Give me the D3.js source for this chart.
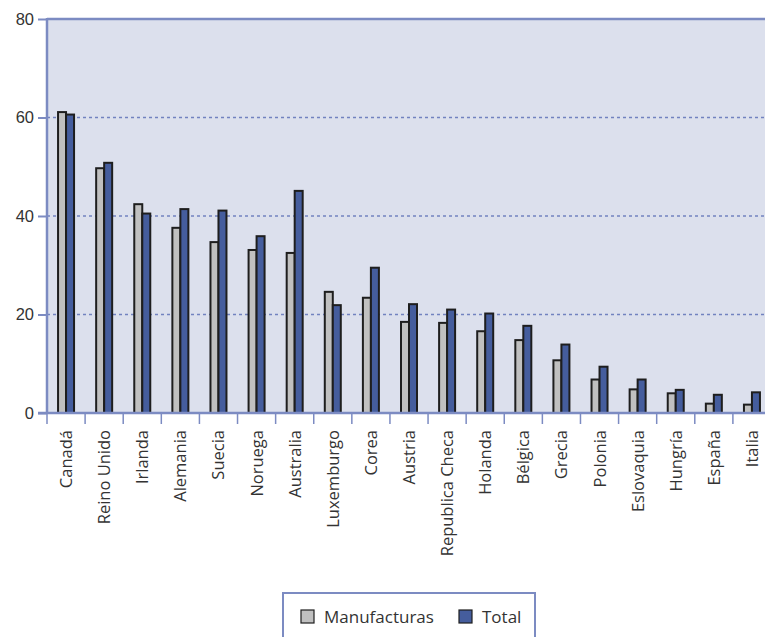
<!DOCTYPE html>
<html>
<head>
<meta charset="utf-8">
<script src="https://cdn.jsdelivr.net/npm/d3@7"></script>
<style>
  body { margin: 0; background: #fff; }
  svg { display: block; font-family: "Open Sans", "Noto Sans", sans-serif; }
</style>
</head>
<body>
<div id="chart"></div>
<script>
const paises = ['Canadá', 'Reino Unido', 'Irlanda', 'Alemania', 'Suecia', 'Noruega', 'Australia',
  'Luxemburgo', 'Corea', 'Austria', 'Republica Checa', 'Holanda', 'Bélgica', 'Grecia',
  'Polonia', 'Eslovaquia', 'Hungría', 'España', 'Italia']
const manufacturas = [61.1, 49.7, 42.4, 37.6, 34.7, 33.1, 32.5, 24.6, 23.4, 18.5, 18.3, 16.6, 14.8, 10.7, 6.8, 4.8, 4.0, 1.9, 1.7]
const total = [60.6, 50.8, 40.5, 41.4, 41.1, 35.9, 45.1, 21.9, 29.5, 22.1, 21.0, 20.2, 17.7, 13.9, 9.4, 6.8, 4.7, 3.7, 4.2]
const series = ['Manufacturas', 'Total']
const yTicks = [0, 20, 40, 60, 80]

const width = 765, height = 637
const m = { left: 47, top: 19, right: -6, bottom: 224 }
const axisColor = '#7c8bc2'
const colors = { Manufacturas: '#c0c0c0', Total: '#455d9d' }

const svg = d3.select('#chart').append('svg')
  .attr('width', width)
  .attr('height', height)

const x = d3.scaleBand()
  .domain(paises)
  .range([m.left, width - m.right])

const y = d3.scaleLinear()
  .domain([0, 80])
  .range([height - m.bottom, m.top])

// fondo
svg.append('rect')
  .attr('x', m.left).attr('y', m.top)
  .attr('width', width - m.right - m.left)
  .attr('height', y(0) - m.top)
  .attr('fill', '#dce0ed')

// lineas de rejilla
svg.append('g')
  .selectAll('line')
  .data(yTicks.filter(d => d > 0 && d < 80))
  .enter().append('line')
  .attr('x1', m.left).attr('x2', width)
  .attr('y1', d => y(d)).attr('y2', d => y(d))
  .attr('stroke', '#7282c0')
  .attr('stroke-width', 1.3)
  .attr('stroke-dasharray', '3,3')

// barras
const bw = 8
const g = svg.append('g')
paises.forEach((p, i) => {
  const cx = x(p) + x.bandwidth() / 2
  const vals = [manufacturas[i], total[i]]
  vals.forEach((v, j) => {
    g.append('rect')
      .attr('x', cx - bw + j * bw)
      .attr('y', y(v))
      .attr('width', bw)
      .attr('height', y(0) - y(v))
      .attr('fill', colors[series[j]])
      .attr('stroke', '#1e1e1e')
      .attr('stroke-width', 2)
  })
})

// eje y
const yAxis = svg.append('g')
  .attr('transform', 'translate(' + m.left + ',0)')
  .call(d3.axisLeft(y).tickValues(yTicks).tickSize(9).tickPadding(4))
yAxis.select('.domain').remove()
yAxis.selectAll('line').attr('stroke', axisColor).attr('stroke-width', 2)
yAxis.selectAll('text').attr('fill', '#333').style('font-size', '16.5px')

svg.append('line')
  .attr('x1', m.left).attr('x2', m.left)
  .attr('y1', m.top - 1).attr('y2', y(0))
  .attr('stroke', axisColor).attr('stroke-width', 2.5)
svg.append('line')
  .attr('x1', m.left).attr('x2', width)
  .attr('y1', m.top).attr('y2', m.top)
  .attr('stroke', axisColor).attr('stroke-width', 2.5)

// eje x
const xAxis = svg.append('g')
  .attr('transform', 'translate(0,' + y(0) + ')')
xAxis.append('line')
  .attr('x1', m.left - 9).attr('x2', width)
  .attr('stroke', axisColor).attr('stroke-width', 2.5)
xAxis.selectAll('.tk')
  .data(paises)
  .enter().append('line')
  .attr('x1', d => x(d)).attr('x2', d => x(d))
  .attr('y1', 0).attr('y2', 11)
  .attr('stroke', axisColor).attr('stroke-width', 1.5)
xAxis.selectAll('.lbl')
  .data(paises)
  .enter().append('text')
  .attr('transform', d => 'translate(' + (x(d) + x.bandwidth() / 2 + 6) + ',17) rotate(-90)')
  .attr('text-anchor', 'end')
  .attr('fill', '#333')
  .style('font-size', '16.5px')
  .text(d => d)

// leyenda
const lg = svg.append('g').attr('transform', 'translate(283,593)')
lg.append('rect')
  .attr('x', 0).attr('y', 0)
  .attr('width', 252).attr('height', 60)
  .attr('fill', '#fff')
  .attr('stroke', axisColor).attr('stroke-width', 2)
const items = [{ s: 'Manufacturas', x: 18 }, { s: 'Total', x: 176 }]
items.forEach(it => {
  lg.append('rect')
    .attr('x', it.x).attr('y', 17)
    .attr('width', 13).attr('height', 13)
    .attr('fill', colors[it.s])
    .attr('stroke', '#1e1e1e').attr('stroke-width', 1.2)
  lg.append('text')
    .attr('x', it.x + 23).attr('y', 30)
    .attr('fill', '#333')
    .style('font-size', '17px')
    .text(it.s)
})
</script>
</body>
</html>
